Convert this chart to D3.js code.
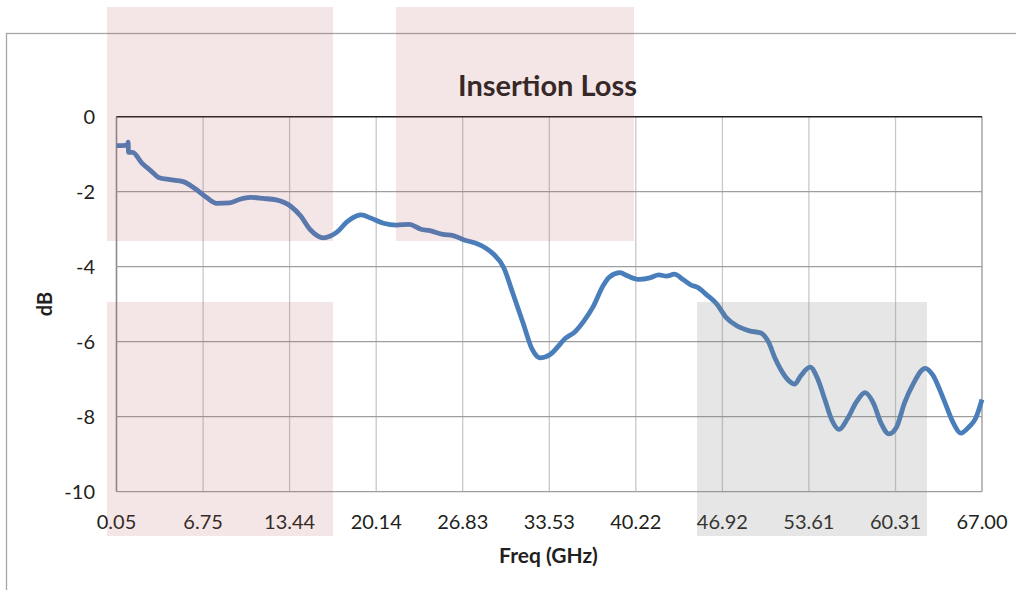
<!DOCTYPE html>
<html><head><meta charset="utf-8">
<script src="https://cdn.jsdelivr.net/npm/d3@7"></script>
<style>html,body{margin:0;padding:0;background:#fff;}svg{display:block;}</style>
</head><body>
<script>
const xTicks = [0.05, 6.75, 13.44, 20.14, 26.83, 33.53, 40.22, 46.92, 53.61, 60.31, 67.00];
const yTicks = [0, -2, -4, -6, -8, -10];
const freq = [0.05,0.5,0.92,0.95,0.98,1.3,2.0,2.8,3.3,4.2,5.2,6.25,7.0,7.8,8.8,9.6,10.4,11.4,12.4,13.5,14.3,15.0,15.6,16.05,16.6,17.1,17.9,18.6,19.0,19.7,20.7,21.7,22.7,23.6,24.3,25.3,26.1,26.9,27.8,28.6,29.2,30.0,30.7,31.5,32.2,32.8,33.6,34.4,34.7,35.5,36.2,36.9,37.7,38.2,39.0,39.6,40.5,41.3,42.0,42.6,43.2,43.9,44.5,45.0,45.7,46.5,47.2,48.0,49.0,49.9,50.5,51.0,51.4,52.0,52.5,53.0,53.7,54.3,54.85,55.4,55.95,56.6,57.3,57.95,58.6,59.2,59.8,60.4,61.0,61.7,62.6,63.2,64.0,64.8,65.35,66.0,66.5,67.0];
const loss = [-0.77,-0.77,-0.76,-0.68,-0.95,-0.95,-1.23,-1.47,-1.62,-1.68,-1.73,-1.95,-2.15,-2.31,-2.3,-2.2,-2.15,-2.18,-2.22,-2.38,-2.65,-3.0,-3.18,-3.23,-3.18,-3.08,-2.8,-2.65,-2.62,-2.7,-2.84,-2.89,-2.87,-3.0,-3.04,-3.14,-3.17,-3.28,-3.37,-3.5,-3.66,-4.02,-4.7,-5.5,-6.2,-6.43,-6.34,-6.05,-5.93,-5.74,-5.45,-5.08,-4.5,-4.27,-4.16,-4.25,-4.34,-4.3,-4.22,-4.25,-4.2,-4.35,-4.49,-4.55,-4.75,-5.0,-5.35,-5.57,-5.71,-5.77,-6.02,-6.45,-6.72,-7.02,-7.13,-6.9,-6.68,-7.0,-7.55,-8.1,-8.34,-8.05,-7.6,-7.36,-7.64,-8.18,-8.46,-8.27,-7.64,-7.11,-6.71,-6.89,-7.51,-8.18,-8.44,-8.27,-8.05,-7.54];

const W = 1016, H = 590;
const svg = d3.select("body").append("svg").attr("width", W).attr("height", H);
const x = d3.scaleLinear().domain([0.05, 67]).range([116.5, 982]);
const y = d3.scaleLinear().domain([-10, 0]).range([491.7, 116.7]);
const font = "Lato, 'Open Sans', sans-serif";

// outer chart border
svg.append("rect").attr("x", 6.5).attr("y", 33.5).attr("width", 1100).attr("height", 700)
  .attr("fill", "none").attr("stroke", "#a6a6a6").attr("stroke-width", 1.3);

// vertical gridlines
svg.append("g").selectAll("line").data(xTicks).join("line")
  .attr("x1", d => x(d)).attr("x2", d => x(d)).attr("y1", y(0)).attr("y2", y(-10))
  .attr("stroke", d => (d === 0.05 ? "#8c8c8c" : d === 67 ? "#aaaaaa" : "#c8c8c8"))
  .attr("stroke-width", d => (d === 0.05 || d === 67) ? 1.6 : 1.3);

// horizontal gridlines
svg.append("g").selectAll("line").data(yTicks).join("line")
  .attr("x1", x(0.05)).attr("x2", x(67)).attr("y1", d => y(d)).attr("y2", d => y(d))
  .attr("stroke", d => d === 0 ? "#231f20" : "#9e9e9e")
  .attr("stroke-width", d => d === 0 ? 1.6 : 1.3);

// y tick labels
svg.append("g").selectAll("text").data(yTicks).join("text")
  .attr("x", 95).attr("y", d => y(d)).attr("dy", "0.35em").attr("text-anchor", "end")
  .attr("font-family", font).attr("font-size", 20).attr("fill", "#231f20")
  .text(d => String(d));

// x tick labels
svg.append("g").selectAll("text").data(xTicks).join("text")
  .attr("x", d => x(d)).attr("y", 522).attr("dy", "0.35em").attr("text-anchor", "middle")
  .attr("font-family", font).attr("font-size", 20).attr("fill", "#231f20")
  .text(d => d.toFixed(2));

// data line
const pts = freq.map((f, i) => [f, loss[i]]);
svg.append("path").datum(pts)
  .attr("d", d3.line().x(d => x(d[0])).y(d => y(d[1])).curve(d3.curveMonotoneX))
  .attr("fill", "none").attr("stroke", "#4a7ebb").attr("stroke-width", 4.8)
  .attr("stroke-linejoin", "round").attr("stroke-linecap", "butt");

// title & axis labels
svg.append("text").attr("x", 547.5).attr("y", 96).attr("text-anchor", "middle")
  .attr("font-family", font).attr("font-weight", "bold").attr("font-size", 29)
  .attr("fill", "#231f20").text("Insertion Loss");
svg.append("text").attr("transform", "translate(52,304) rotate(-90)").attr("text-anchor", "middle")
  .attr("font-family", font).attr("font-weight", "bold").attr("font-size", 20)
  .attr("fill", "#231f20").text("dB");
svg.append("text").attr("x", 548.5).attr("y", 563).attr("text-anchor", "middle")
  .attr("font-family", font).attr("font-weight", "bold").attr("font-size", 21)
  .attr("fill", "#231f20").text("Freq (GHz)");

// translucent overlays
const pink = "rgb(180,90,90)";
[[107, 7, 226, 234], [396, 7, 238, 234], [107, 302, 226, 234]].forEach(r => {
  svg.append("rect").attr("x", r[0]).attr("y", r[1]).attr("width", r[2]).attr("height", r[3])
    .attr("fill", pink).attr("fill-opacity", 0.15);
});
svg.append("rect").attr("x", 697).attr("y", 302).attr("width", 230).attr("height", 234)
  .attr("fill", "rgb(130,130,130)").attr("fill-opacity", 0.2);
</script>
</body></html>
